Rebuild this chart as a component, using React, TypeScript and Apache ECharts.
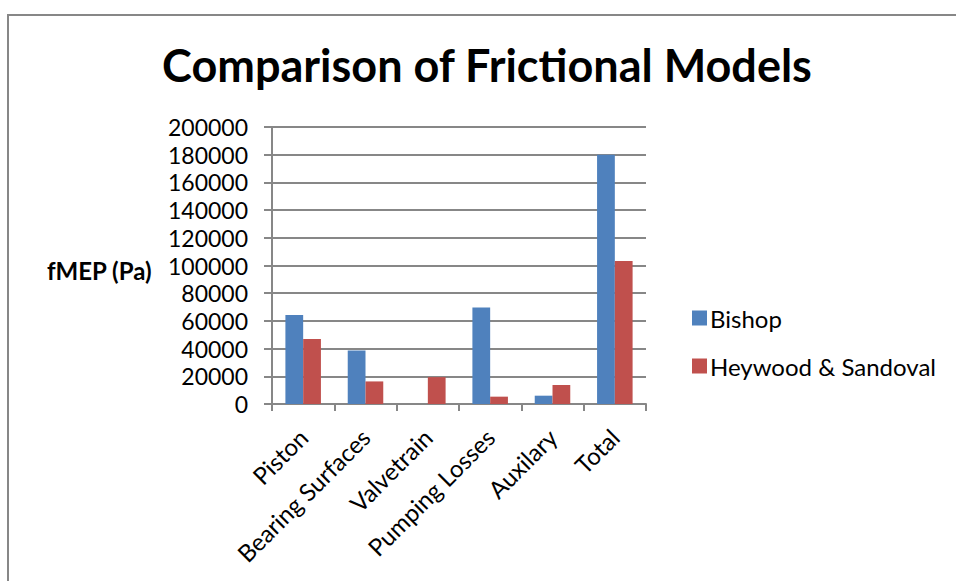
import React, { useEffect, useRef } from "react";
import * as echarts from "echarts";

const categories = ["Piston", "Bearing Surfaces", "Valvetrain", "Pumping Losses", "Auxilary", "Total"];
const bishop = [64300, 38600, 0, 69600, 6000, 180000];
const heywoodSandoval = [47000, 16300, 19400, 5300, 13700, 103200];
const seriesNames = ["Bishop", "Heywood & Sandoval"];

const FONT = "Lato, 'Open Sans', sans-serif";
const GRID_GRAY = "#878787";
const LABEL_SIZE = 24;

export default function App() {
  const ref = useRef<HTMLDivElement>(null);

  useEffect(() => {
    if (!ref.current) return;
    const chart = echarts.init(ref.current, undefined, { renderer: "svg" });
    chart.setOption({
      animation: false,
      backgroundColor: "#ffffff",
      textStyle: { fontFamily: FONT, color: "#000" },
      title: {
        text: "Comparison of Frictional Models",
        left: 482,
        textAlign: "center",
        top: 37,
        textStyle: { fontFamily: FONT, fontSize: 45, fontWeight: "bold", color: "#000" },
      },
      graphic: [
        {
          type: "line",
          shape: { x1: 7, y1: 15, x2: 960, y2: 15 },
          style: { stroke: GRID_GRAY, lineWidth: 2 },
          silent: true,
        },
        {
          type: "line",
          shape: { x1: 8, y1: 14, x2: 8, y2: 590 },
          style: { stroke: GRID_GRAY, lineWidth: 2 },
          silent: true,
        },
        {
          type: "text",
          left: 47,
          top: 258,
          style: { text: "fMEP (Pa)", fontFamily: FONT, fontSize: 24, fontWeight: "bold", fill: "#000" },
        },
      ],
      legend: {
        orient: "vertical",
        left: 687,
        top: 301,
        itemWidth: 15,
        itemHeight: 15,
        itemGap: 24,
        icon: "rect",
        textStyle: { fontFamily: FONT, fontSize: LABEL_SIZE, lineHeight: 24, color: "#000", padding: [0, 0, 0, -2] },
        data: seriesNames,
      },
      grid: { left: 272, right: 310, top: 127, bottom: 177, containLabel: false },
      xAxis: {
        type: "category",
        data: categories,
        axisLine: { lineStyle: { color: GRID_GRAY, width: 2 } },
        axisTick: { show: true, length: 7, alignWithLabel: false, lineStyle: { color: GRID_GRAY, width: 2 } },
        axisLabel: {
          rotate: 45,
          interval: 0,
          margin: 29,
          fontFamily: FONT,
          fontSize: LABEL_SIZE,
          color: "#000",
        },
      },
      yAxis: {
        type: "value",
        min: 0,
        max: 200000,
        interval: 20000,
        axisLine: { show: true, lineStyle: { color: GRID_GRAY, width: 2 } },
        axisTick: { show: true, length: 8, lineStyle: { color: GRID_GRAY, width: 2 } },
        splitLine: { lineStyle: { color: GRID_GRAY, width: 2 } },
        axisLabel: {
          fontFamily: FONT,
          fontSize: 23,
          color: "#000",
          margin: 24,
          formatter: (v: number) => String(v),
        },
      },
      series: [
        {
          name: seriesNames[0],
          type: "bar",
          data: bishop,
          barGap: "0%",
          barCategoryGap: "43%",
          itemStyle: { color: "#4F81BD" },
        },
        {
          name: seriesNames[1],
          type: "bar",
          data: heywoodSandoval,
          barGap: "0%",
          barCategoryGap: "43%",
          itemStyle: { color: "#C0504D" },
        },
      ],
    });
    return () => chart.dispose();
  }, []);

  return (
    <div
      ref={ref}
      style={{ position: "fixed", left: 0, top: 0, width: 956, height: 581, background: "#fff" }}
    />
  );
}
